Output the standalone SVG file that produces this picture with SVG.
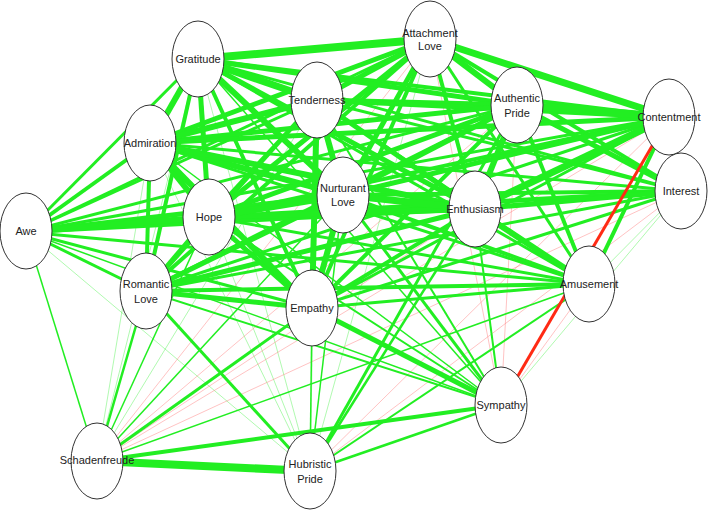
<svg xmlns="http://www.w3.org/2000/svg" width="708" height="510" viewBox="0 0 708 510">
<style>
.g{stroke:#22ee22;fill:none}
.t{stroke:#22ee22;stroke-opacity:0.45;fill:none}
.p{stroke:#ff8080;stroke-opacity:0.6;fill:none;stroke-width:0.8}
.r{stroke:#ff2a14;fill:none}
.n ellipse{fill:#fff;stroke:#333;stroke-width:1}
.n text{font-family:"Liberation Sans",Arial,sans-serif;font-size:11px;fill:#222;text-anchor:middle}
</style>
<rect width="708" height="510" fill="#fff"/>
<g id="edges">
<g stroke-width="0.8">
<line class="t" x1="430" y1="39" x2="310" y2="471"/>
<line class="t" x1="198" y1="59" x2="97" y2="461"/>
<line class="t" x1="198" y1="59" x2="310" y2="471"/>
<line class="t" x1="317" y1="100" x2="97" y2="461"/>
<line class="t" x1="317" y1="100" x2="310" y2="471"/>
<line class="t" x1="150" y1="143" x2="97" y2="461"/>
<line class="t" x1="150" y1="143" x2="310" y2="471"/>
<line class="t" x1="681" y1="191" x2="589" y2="284"/>
<line class="t" x1="681" y1="191" x2="501" y2="405"/>
<line class="t" x1="26" y1="232" x2="310" y2="471"/>
<line class="t" x1="209" y1="217" x2="310" y2="471"/>
</g>
<line class="p" x1="430" y1="39" x2="501" y2="405"/>
<line class="p" x1="430" y1="39" x2="97" y2="461"/>
<line class="p" x1="517" y1="105" x2="501" y2="405"/>
<line class="p" x1="517" y1="105" x2="97" y2="461"/>
<line class="p" x1="669" y1="117" x2="97" y2="461"/>
<line class="p" x1="669" y1="117" x2="310" y2="471"/>
<line class="p" x1="681" y1="191" x2="97" y2="461"/>
<line class="p" x1="681" y1="191" x2="310" y2="471"/>
<line class="p" x1="475" y1="209" x2="97" y2="461"/>
<line class="p" x1="589" y1="284" x2="501" y2="405"/>
<g stroke-width="1.5">
<line class="g" x1="198" y1="59" x2="501" y2="405"/>
<line class="g" x1="150" y1="143" x2="501" y2="405"/>
<line class="g" x1="26" y1="232" x2="501" y2="405"/>
<line class="g" x1="26" y1="232" x2="97" y2="461"/>
<line class="g" x1="343" y1="195" x2="97" y2="461"/>
<line class="g" x1="343" y1="195" x2="310" y2="471"/>
<line class="g" x1="209" y1="217" x2="97" y2="461"/>
<line class="g" x1="312" y1="308" x2="310" y2="471"/>
<line class="g" x1="589" y1="284" x2="97" y2="461"/>
</g>
<g stroke-width="2">
<line class="g" x1="317" y1="100" x2="501" y2="405"/>
<line class="g" x1="669" y1="117" x2="681" y2="191"/>
<line class="g" x1="209" y1="217" x2="501" y2="405"/>
<line class="g" x1="475" y1="209" x2="501" y2="405"/>
<line class="g" x1="146" y1="291" x2="501" y2="405"/>
<line class="g" x1="589" y1="284" x2="310" y2="471"/>
</g>
<g stroke-width="2.5">
<line class="g" x1="475" y1="209" x2="310" y2="471"/>
<line class="g" x1="146" y1="291" x2="97" y2="461"/>
<line class="g" x1="501" y1="405" x2="310" y2="471"/>
</g>
<g stroke-width="3">
<line class="g" x1="430" y1="39" x2="26" y2="232"/>
<line class="g" x1="430" y1="39" x2="589" y2="284"/>
<line class="g" x1="198" y1="59" x2="681" y2="191"/>
<line class="g" x1="198" y1="59" x2="26" y2="232"/>
<line class="g" x1="198" y1="59" x2="589" y2="284"/>
<line class="g" x1="317" y1="100" x2="681" y2="191"/>
<line class="g" x1="317" y1="100" x2="26" y2="232"/>
<line class="g" x1="317" y1="100" x2="589" y2="284"/>
<line class="g" x1="517" y1="105" x2="26" y2="232"/>
<line class="g" x1="517" y1="105" x2="310" y2="471"/>
<line class="g" x1="669" y1="117" x2="26" y2="232"/>
<line class="g" x1="669" y1="117" x2="146" y2="291"/>
<line class="g" x1="669" y1="117" x2="312" y2="308"/>
<line class="g" x1="150" y1="143" x2="681" y2="191"/>
<line class="g" x1="150" y1="143" x2="589" y2="284"/>
<line class="g" x1="681" y1="191" x2="26" y2="232"/>
<line class="g" x1="681" y1="191" x2="146" y2="291"/>
<line class="g" x1="681" y1="191" x2="312" y2="308"/>
<line class="g" x1="343" y1="195" x2="501" y2="405"/>
<line class="g" x1="209" y1="217" x2="589" y2="284"/>
<line class="g" x1="26" y1="232" x2="146" y2="291"/>
<line class="g" x1="26" y1="232" x2="312" y2="308"/>
<line class="g" x1="26" y1="232" x2="589" y2="284"/>
<line class="g" x1="146" y1="291" x2="310" y2="471"/>
<line class="g" x1="312" y1="308" x2="589" y2="284"/>
<line class="g" x1="312" y1="308" x2="97" y2="461"/>
</g>
<g stroke-width="4">
<line class="g" x1="430" y1="39" x2="681" y2="191"/>
<line class="g" x1="430" y1="39" x2="475" y2="209"/>
<line class="g" x1="430" y1="39" x2="146" y2="291"/>
<line class="g" x1="430" y1="39" x2="312" y2="308"/>
<line class="g" x1="198" y1="59" x2="669" y2="117"/>
<line class="g" x1="198" y1="59" x2="146" y2="291"/>
<line class="g" x1="198" y1="59" x2="312" y2="308"/>
<line class="g" x1="317" y1="100" x2="209" y2="217"/>
<line class="g" x1="317" y1="100" x2="146" y2="291"/>
<line class="g" x1="517" y1="105" x2="146" y2="291"/>
<line class="g" x1="517" y1="105" x2="312" y2="308"/>
<line class="g" x1="517" y1="105" x2="589" y2="284"/>
<line class="g" x1="669" y1="117" x2="209" y2="217"/>
<line class="g" x1="669" y1="117" x2="589" y2="284"/>
<line class="g" x1="150" y1="143" x2="26" y2="232"/>
<line class="g" x1="150" y1="143" x2="146" y2="291"/>
<line class="g" x1="681" y1="191" x2="343" y2="195"/>
<line class="g" x1="681" y1="191" x2="209" y2="217"/>
<line class="g" x1="343" y1="195" x2="589" y2="284"/>
<line class="g" x1="475" y1="209" x2="26" y2="232"/>
<line class="g" x1="475" y1="209" x2="312" y2="308"/>
<line class="g" x1="146" y1="291" x2="589" y2="284"/>
<line class="g" x1="501" y1="405" x2="97" y2="461"/>
</g>
<g stroke-width="5">
<line class="g" x1="430" y1="39" x2="317" y2="100"/>
<line class="g" x1="430" y1="39" x2="150" y2="143"/>
<line class="g" x1="430" y1="39" x2="343" y2="195"/>
<line class="g" x1="430" y1="39" x2="209" y2="217"/>
<line class="g" x1="198" y1="59" x2="517" y2="105"/>
<line class="g" x1="198" y1="59" x2="209" y2="217"/>
<line class="g" x1="198" y1="59" x2="475" y2="209"/>
<line class="g" x1="317" y1="100" x2="517" y2="105"/>
<line class="g" x1="317" y1="100" x2="669" y2="117"/>
<line class="g" x1="317" y1="100" x2="475" y2="209"/>
<line class="g" x1="517" y1="105" x2="150" y2="143"/>
<line class="g" x1="517" y1="105" x2="681" y2="191"/>
<line class="g" x1="517" y1="105" x2="343" y2="195"/>
<line class="g" x1="517" y1="105" x2="209" y2="217"/>
<line class="g" x1="669" y1="117" x2="150" y2="143"/>
<line class="g" x1="669" y1="117" x2="343" y2="195"/>
<line class="g" x1="681" y1="191" x2="475" y2="209"/>
<line class="g" x1="343" y1="195" x2="26" y2="232"/>
<line class="g" x1="343" y1="195" x2="146" y2="291"/>
<line class="g" x1="209" y1="217" x2="146" y2="291"/>
<line class="g" x1="209" y1="217" x2="312" y2="308"/>
<line class="g" x1="475" y1="209" x2="146" y2="291"/>
<line class="g" x1="146" y1="291" x2="312" y2="308"/>
<line class="g" x1="312" y1="308" x2="501" y2="405"/>
</g>
<g stroke-width="6">
<line class="g" x1="430" y1="39" x2="517" y2="105"/>
<line class="g" x1="198" y1="59" x2="150" y2="143"/>
<line class="g" x1="198" y1="59" x2="343" y2="195"/>
<line class="g" x1="317" y1="100" x2="150" y2="143"/>
<line class="g" x1="317" y1="100" x2="343" y2="195"/>
<line class="g" x1="317" y1="100" x2="312" y2="308"/>
<line class="g" x1="517" y1="105" x2="475" y2="209"/>
<line class="g" x1="150" y1="143" x2="343" y2="195"/>
<line class="g" x1="150" y1="143" x2="209" y2="217"/>
<line class="g" x1="150" y1="143" x2="475" y2="209"/>
<line class="g" x1="150" y1="143" x2="312" y2="308"/>
<line class="g" x1="343" y1="195" x2="312" y2="308"/>
<line class="g" x1="209" y1="217" x2="475" y2="209"/>
<line class="g" x1="209" y1="217" x2="26" y2="232"/>
<line class="g" x1="475" y1="209" x2="589" y2="284"/>
</g>
<g stroke-width="7">
<line class="g" x1="430" y1="39" x2="669" y2="117"/>
<line class="g" x1="198" y1="59" x2="317" y2="100"/>
<line class="g" x1="669" y1="117" x2="475" y2="209"/>
<line class="g" x1="343" y1="195" x2="209" y2="217"/>
<line class="g" x1="343" y1="195" x2="475" y2="209"/>
</g>
<g stroke-width="8">
<line class="g" x1="430" y1="39" x2="198" y2="59"/>
<line class="g" x1="517" y1="105" x2="669" y2="117"/>
<line class="g" x1="97" y1="461" x2="310" y2="471"/>
</g>
<line class="r" stroke-width="3" x1="669" y1="117" x2="501" y2="405"/>
</g>
<g id="node-attachment-love" class="n"><ellipse cx="430" cy="39" rx="26" ry="38"/><text x="430" y="37" font-size="10.3">Attachment</text><text x="430" y="50" font-size="10.3">Love</text></g>
<g id="node-gratitude" class="n"><ellipse cx="198" cy="59" rx="26" ry="38"/><text x="198" y="63">Gratitude</text></g>
<g id="node-tenderness" class="n"><ellipse cx="317" cy="100" rx="26" ry="38"/><text x="317" y="104" font-size="9.7">Tenderness</text></g>
<g id="node-authentic-pride" class="n"><ellipse cx="517" cy="105" rx="26" ry="38"/><text x="517" y="102">Authentic</text><text x="517" y="117">Pride</text></g>
<g id="node-contentment" class="n"><ellipse cx="669" cy="117" rx="26" ry="38"/><text x="669" y="121" font-size="9">Contentment</text></g>
<g id="node-admiration" class="n"><ellipse cx="150" cy="143" rx="26" ry="38"/><text x="150" y="147" font-size="10.7">Admiration</text></g>
<g id="node-interest" class="n"><ellipse cx="681" cy="191" rx="26" ry="38"/><text x="681" y="195">Interest</text></g>
<g id="node-nurturant-love" class="n"><ellipse cx="343" cy="195" rx="26" ry="38"/><text x="343" y="192">Nurturant</text><text x="343" y="206">Love</text></g>
<g id="node-hope" class="n"><ellipse cx="209" cy="217" rx="26" ry="38"/><text x="209" y="221">Hope</text></g>
<g id="node-enthusiasm" class="n"><ellipse cx="475" cy="209" rx="26" ry="38"/><text x="475" y="213" font-size="9.9">Enthusiasm</text></g>
<g id="node-awe" class="n"><ellipse cx="26" cy="231" rx="26" ry="38"/><text x="26" y="235">Awe</text></g>
<g id="node-romantic-love" class="n"><ellipse cx="146" cy="291" rx="26" ry="38"/><text x="146" y="288">Romantic</text><text x="146" y="303">Love</text></g>
<g id="node-empathy" class="n"><ellipse cx="312" cy="308" rx="26" ry="38"/><text x="312" y="312">Empathy</text></g>
<g id="node-amusement" class="n"><ellipse cx="589" cy="284" rx="26" ry="38"/><text x="589" y="288" font-size="9.8">Amusement</text></g>
<g id="node-sympathy" class="n"><ellipse cx="501" cy="405" rx="26" ry="38"/><text x="501" y="409">Sympathy</text></g>
<g id="node-schadenfreude" class="n"><ellipse cx="97" cy="461" rx="26" ry="38"/><text x="97" y="464" font-size="7.6">Schadenfreude</text></g>
<g id="node-hubristic-pride" class="n"><ellipse cx="310" cy="471" rx="26" ry="38"/><text x="310" y="468">Hubristic</text><text x="310" y="483">Pride</text></g>
</svg>
